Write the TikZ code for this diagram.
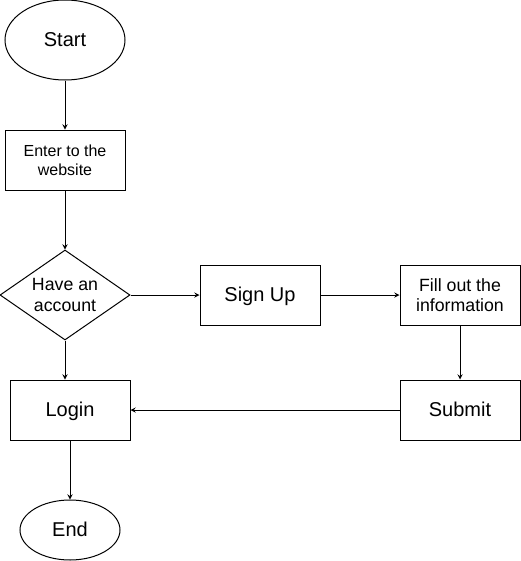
\documentclass[tikz,border=0pt]{standalone}
\usepackage{fontspec}
\setmainfont{Liberation Sans}
\usetikzlibrary{shapes.geometric}

\begin{document}
\begin{tikzpicture}[x=0.75pt,y=-0.75pt,>=stealth,line width=0.75pt,
    every node/.style={draw,align=center,inner sep=0pt},
    big/.style={font=\fontsize{15}{18}\selectfont,text height=13.6pt,text depth=3.2pt},
    terminal/.style={ellipse,big},
    stepbox/.style={rectangle,minimum width=90pt,minimum height=45pt},
    mid/.style={font=\fontsize{13.3}{15.5}\selectfont},
    small/.style={font=\fontsize{12}{14.5}\selectfont}]
    \useasboundingbox (0,0) rectangle (521,561);
    \node[terminal, minimum width=90pt, minimum height=60pt] (start) at (65,40) {Start};
    \node[stepbox, small] (enter) at (65,160) {Enter to the\\website};
    \node[diamond, mid, aspect=1.44, minimum width=97.5pt, minimum height=67.5pt] (have) at (65,295) {Have an\\account};
    \node[stepbox, big] (signup) at (260,295) {Sign Up};
    \node[stepbox, mid] (fill) at (460,295) {Fill out the\\information};
    \node[stepbox, big] (submit) at (460,410) {Submit};
    \node[stepbox, big] (login) at (70,410) {Login};
    \node[terminal, minimum width=75pt, minimum height=45pt] (end) at (70,530) {End};
    \foreach \from/\to in
    {start/enter,enter/have,have/signup,signup/fill,fill/submit,submit/login,login/end}
    \draw[->] (\from) -- (\to);
    \draw[->] (have.south) -- (have.south |- login.north);
  \end{tikzpicture}
\end{document}
